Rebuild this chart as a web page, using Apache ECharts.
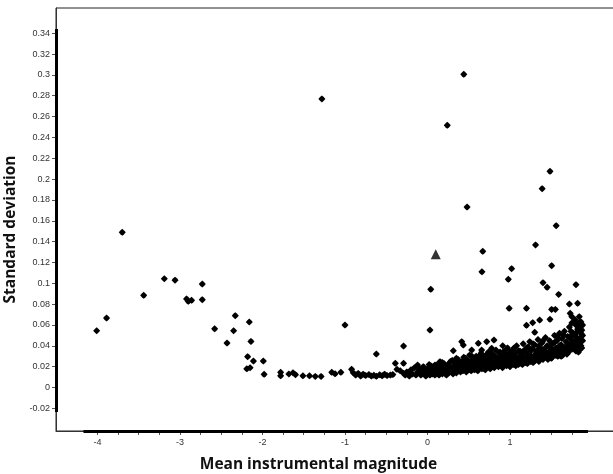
<!DOCTYPE html>
<html>
<head>
<meta charset="utf-8">
<script src="https://cdn.jsdelivr.net/npm/echarts@6/dist/echarts.min.js"></script>
<style>
  html, body { margin: 0; padding: 0; background: #fff; }
  #chart { width: 613px; height: 474px; }
</style>
</head>
<body>
<div id="chart"></div>
<script>
// tick positions / labels
const xTicks = [-4, -3.75, -3.5, -3.25, -3, -2.75, -2.5, -2.25, -2, -1.75, -1.5, -1.25,
  -1, -0.75, -0.5, -0.25, 0, 0.25, 0.5, 0.75, 1, 1.25, 1.5, 1.75]
const xLabels = [-4, -3, -2, -1, 0, 1]
const yLabels = [-0.02, 0, 0.02, 0.04, 0.06, 0.08, 0.1, 0.12, 0.14, 0.16, 0.18, 0.2,
  0.22, 0.24, 0.26, 0.28, 0.3, 0.32, 0.34]

// bright end of the curve
const leftArm = [[-4.01,0.0545],[-3.89,0.0667],[-3.70,0.149],[-3.44,0.0885],[-3.19,0.1044],[-3.06,0.103],
  [-2.92,0.085],[-2.90,0.0827],[-2.86,0.0837],[-2.73,0.0993],[-2.73,0.0843],[-2.58,0.0564],[-2.43,0.0427],
  [-2.33,0.0689],[-2.35,0.0545],[-2.16,0.0629],[-2.14,0.0443],[-2.18,0.0296],[-2.11,0.0254],[-2.19,0.018],
  [-2.15,0.019],[-1.99,0.0254],[-1.98,0.0127]]

// flat floor between -1.8 and 0
const floor = [[-1.78,0.0113],[-1.78,0.0146],[-1.68,0.013],[-1.63,0.0142],[-1.60,0.0123],[-1.51,0.0113],
  [-1.43,0.0113],[-1.36,0.0107],[-1.29,0.0107],[-1.16,0.0146],[-1.12,0.0132],[-1.05,0.0146],[-0.92,0.0175],
  [-0.90,0.0142],[-0.87,0.012],[-0.84,0.0135],[-0.81,0.011],[-0.78,0.0128],[-0.75,0.0115],[-0.71,0.0125],
  [-0.68,0.011],[-0.65,0.0118],[-0.62,0.0108],[-0.58,0.0122],[-0.55,0.0112],[-0.52,0.0128],[-0.49,0.0115],
  [-0.45,0.012],[-0.42,0.0125],[-0.39,0.0232],[-0.37,0.0175],[-0.33,0.0161],[-0.29,0.0136],[-0.29,0.0232],
  [-0.21,0.0142],[-0.12,0.0216],[-0.09,0.0175],[-0.03,0.0136]]

// faint stars, dense band
const band = [[-0.27,0.012],[-0.25,0.015],[-0.22,0.011],[-0.2,0.017],[-0.18,0.013],[-0.16,0.019],[-0.14,0.012],
  [-0.12,0.015],[-0.1,0.018],[-0.08,0.012],[-0.06,0.014],[-0.05,0.02],[-0.03,0.016],[-0.02,0.011],[0.0,0.013],
  [0.01,0.019],[0.02,0.015],[0.03,0.012],[0.04,0.021],[0.05,0.017],
  [0.06,0.013],[0.08,0.016],[0.09,0.012],[0.1,0.019],[0.11,0.014],[0.12,0.022],[0.13,0.017],[0.14,0.012],
  [0.16,0.015],[0.17,0.02],[0.18,0.013],[0.19,0.017],[0.2,0.023],[0.21,0.014],[0.22,0.018],[0.23,0.012],
  [0.24,0.016],[0.25,0.021],[0.26,0.014],[0.27,0.019],[0.28,0.025],[0.29,0.015],[0.3,0.017],
  [0.31,0.013],[0.32,0.021],[0.33,0.016],[0.34,0.024],[0.35,0.014],[0.36,0.019],[0.37,0.027],[0.38,0.017],
  [0.39,0.022],[0.4,0.015],[0.41,0.02],[0.42,0.025],[0.43,0.016],[0.44,0.029],[0.45,0.018],[0.46,0.023],
  [0.47,0.015],[0.48,0.02],[0.49,0.026],[0.5,0.017],[0.51,0.031],[0.52,0.022],[0.53,0.016],[0.54,0.019],
  [0.55,0.027],[0.56,0.021],[0.57,0.017],[0.58,0.024],[0.59,0.03],[0.6,0.019],
  [0.61,0.016],[0.62,0.023],[0.63,0.028],[0.64,0.02],[0.65,0.033],[0.66,0.018],[0.67,0.025],[0.68,0.021],
  [0.69,0.03],[0.7,0.017],[0.71,0.024],[0.72,0.027],[0.73,0.02],[0.74,0.034],[0.75,0.022],[0.76,0.018],
  [0.77,0.029],[0.78,0.025],[0.79,0.021],[0.8,0.031],[0.81,0.019],[0.82,0.026],[0.83,0.036],[0.84,0.023],
  [0.85,0.028],[0.86,0.02],[0.87,0.033],[0.88,0.025],[0.89,0.022],[0.9,0.03],
  [0.91,0.019],[0.92,0.027],[0.93,0.035],[0.94,0.023],[0.95,0.029],[0.96,0.021],[0.97,0.038],[0.98,0.026],
  [0.99,0.032],[1.0,0.02],[1.01,0.024],[1.02,0.03],[1.03,0.036],[1.04,0.022],[1.05,0.027],[1.06,0.033],
  [1.07,0.021],[1.08,0.04],[1.09,0.025],[1.1,0.029],[1.11,0.023],[1.12,0.035],[1.13,0.027],[1.14,0.031],
  [1.15,0.022],[1.16,0.042],[1.17,0.026],[1.18,0.034],[1.19,0.024],[1.2,0.029],[0.95,0.025],[1.0,0.034],
  [1.05,0.038],[1.1,0.035],[1.15,0.028],[1.2,0.038],
  [0.02,0.022],[0.07,0.02],[0.12,0.016],[0.15,0.021],[0.18,0.024],[0.22,0.015],[0.26,0.023],[0.3,0.026],
  [0.33,0.02],[0.35,0.028],[0.38,0.024],[0.41,0.017],[0.43,0.022],[0.46,0.028],[0.48,0.016],[0.5,0.024],
  [0.52,0.019],[0.54,0.03],[0.56,0.025],[0.58,0.02],[0.6,0.028],[0.62,0.019],[0.64,0.031],[0.66,0.024],
  [0.68,0.028],[0.7,0.021],[0.72,0.031],[0.74,0.026],[0.76,0.023],[0.78,0.033],[0.8,0.022],[0.82,0.03],
  [0.84,0.027],[0.86,0.024],[0.88,0.034],[0.9,0.026],[0.92,0.022],[0.94,0.032],[0.96,0.028],[0.98,0.022],
  [1.0,0.03],[1.02,0.026],[1.04,0.033],[1.06,0.024],[1.08,0.029],[1.1,0.022],[1.12,0.03],[1.14,0.025],
  [1.16,0.035],[1.18,0.028],[1.2,0.025],
  [1.21,0.023],[1.22,0.033],[1.23,0.027],[1.24,0.044],[1.25,0.025],[1.26,0.03],[1.27,0.037],[1.28,0.024],
  [1.29,0.028],[1.3,0.041],[1.31,0.026],[1.32,0.034],[1.33,0.03],[1.34,0.046],[1.35,0.025],[1.36,0.032],
  [1.37,0.038],[1.38,0.028],[1.39,0.043],[1.4,0.027],[1.41,0.035],[1.42,0.031],[1.43,0.048],[1.44,0.029],
  [1.45,0.04],[1.46,0.027],[1.47,0.034],[1.48,0.045],[1.49,0.031],[1.5,0.037],[1.25,0.035],[1.3,0.031],
  [1.35,0.04],[1.4,0.045],[1.45,0.033],[1.5,0.028],[1.22,0.039],[1.28,0.042],[1.33,0.036],[1.38,0.033],
  [1.43,0.038],[1.48,0.04],
  [1.51,0.029],[1.52,0.042],[1.53,0.034],[1.54,0.05],[1.55,0.031],[1.56,0.038],[1.57,0.045],[1.58,0.03],
  [1.59,0.036],[1.6,0.052],[1.61,0.033],[1.62,0.041],[1.63,0.047],[1.64,0.031],[1.65,0.039],[1.66,0.054],
  [1.67,0.035],[1.68,0.044],[1.69,0.032],[1.7,0.049],[1.52,0.036],[1.55,0.044],[1.58,0.048],[1.6,0.04],
  [1.63,0.036],[1.65,0.05],[1.68,0.038],[1.7,0.042],[1.57,0.033],[1.62,0.03],
  [1.71,0.034],[1.72,0.058],[1.73,0.04],[1.74,0.046],[1.75,0.062],[1.76,0.037],[1.77,0.052],[1.78,0.043],
  [1.79,0.065],[1.8,0.035],[1.81,0.048],[1.82,0.056],[1.83,0.039],[1.84,0.068],[1.85,0.044],[1.86,0.052],
  [1.87,0.038],[1.88,0.06],[1.72,0.036],[1.74,0.054],[1.76,0.044],[1.78,0.05],[1.8,0.06],[1.82,0.041],
  [1.84,0.047],[1.86,0.063],[1.88,0.045],[1.73,0.048],[1.77,0.04],[1.81,0.053],[1.85,0.058],[1.87,0.055],
  [1.79,0.045],[1.83,0.062],[1.86,0.04],[1.75,0.05],[1.83,0.034],[1.88,0.05],[1.8,0.04],[1.84,0.036]]

// scattered stars above the band
const outliers = [[-1.28,0.2769],[-1.0,0.06],[-0.62,0.0321],[-0.29,0.0398],[0.04,0.0942],[0.03,0.0552],
  [0.44,0.3006],[0.24,0.2516],[1.485,0.2075],[1.39,0.1908],[0.48,0.1732],[1.56,0.1553],[1.31,0.1368],
  [0.67,0.1307],[1.02,0.114],[1.505,0.1169],[0.66,0.1111],[0.98,0.1038],[1.40,0.1006],[1.45,0.0962],
  [1.80,0.0987],[1.59,0.0894],[0.99,0.076],[1.20,0.076],[1.72,0.0801],[1.82,0.0808],[1.505,0.075],
  [1.55,0.075],[1.36,0.0648],[1.275,0.0622],[1.20,0.0597],[1.30,0.053],[1.485,0.0655],[1.73,0.0712],
  [1.75,0.068],[0.415,0.044],[0.434,0.0408],[0.313,0.0353],[0.616,0.0424],[0.718,0.044],[0.806,0.0456],
  [0.912,0.0401],[0.536,0.036],[0.657,0.036],[0.576,0.0248],[0.737,0.0334],[0.778,0.0376],[0.152,0.0248],
  [0.091,0.0216]]

// the target star
const target = [[0.10, 0.1278]]

const chart = echarts.init(document.getElementById('chart'))

const xMin = -4.503, xMax = 2.273
const yMin = -0.0417, yMax = 0.3642
const labelFont = { fontFamily: 'Liberation Sans', fontSize: 9, color: '#333' }
const nameFont = { fontFamily: 'Open Sans', fontSize: 15.5, fontWeight: 'bold', color: '#111' }
// rounded diamond, like the plotted markers
const starSymbol = 'path://M3,0 L4.6,1.4 L6,3 L4.6,4.6 L3,6 L1.4,4.6 L0,3 L1.4,1.4 Z'

chart.setOption({
  animation: false,
  grid: {
    left: 56, right: -2, top: 8, bottom: 43,
    show: true, borderColor: '#222', borderWidth: 1,
    outerBoundsMode: 'none'
  },
  xAxis: {
    type: 'value', min: xMin, max: xMax,
    name: 'Mean instrumental magnitude',
    nameLocation: 'middle', nameGap: 26,
    nameTextStyle: { ...nameFont, padding: [0, 34, 0, 0] },
    axisLine: { show: true, onZero: false, lineStyle: { color: '#333', width: 1 } },
    axisTick: { show: true, length: 4, customValues: xTicks, lineStyle: { color: '#555' } },
    axisLabel: { ...labelFont, margin: 7, customValues: xLabels },
    splitLine: { show: false }
  },
  yAxis: {
    type: 'value', min: yMin, max: yMax,
    name: 'Standard deviation',
    nameLocation: 'middle', nameGap: 34,
    nameTextStyle: { ...nameFont, padding: [0, 20, 0, 0] },
    axisLine: { show: true, onZero: false, lineStyle: { color: '#333', width: 1 } },
    axisTick: { show: true, length: 4, customValues: yLabels, lineStyle: { color: '#555' } },
    axisLabel: {
      ...labelFont, margin: 6, customValues: yLabels,
      formatter: v => String(Math.round(v * 100) / 100)
    },
    splitLine: { show: false }
  },
  series: [
    {
      type: 'scatter', symbol: starSymbol, symbolSize: 7,
      itemStyle: { color: '#000', opacity: 1 },
      data: leftArm.concat(floor, band, outliers),
      markLine: {
        silent: true, symbol: ['none', 'none'], label: { show: false },
        lineStyle: { color: '#000', width: 3, type: 'solid' },
        data: [
          [{ coord: [xMin, 0.344] }, { coord: [xMin, -0.0235] }],
          [{ coord: [-4.17, yMin] }, { coord: [1.945, yMin] }]
        ]
      }
    },
    {
      type: 'scatter', symbol: 'triangle', symbolSize: 10,
      itemStyle: { color: '#333', opacity: 1 },
      data: target
    }
  ]
})
</script>
</body>
</html>
